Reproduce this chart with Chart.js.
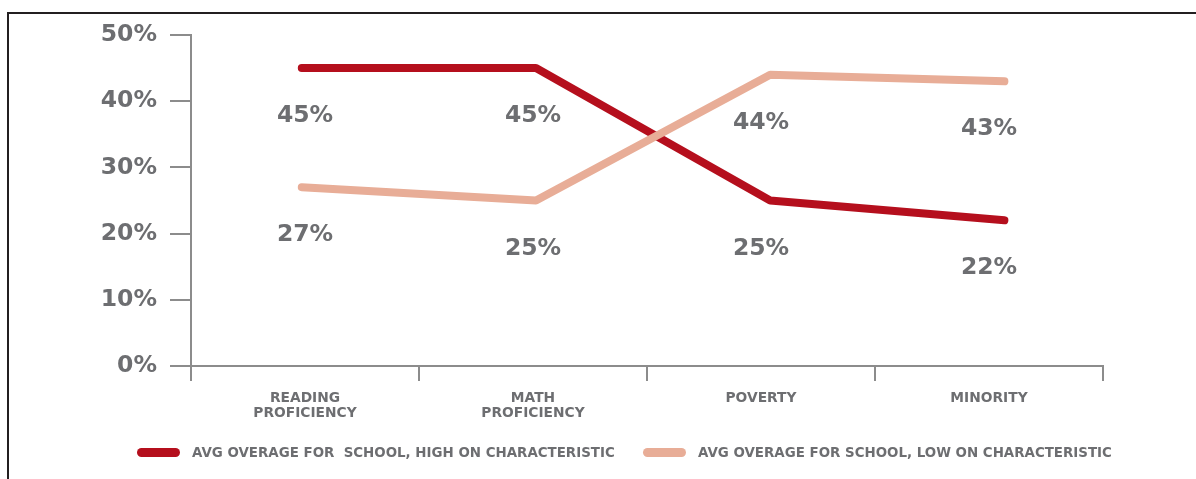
<!DOCTYPE html>
<html>
<head>
    <meta charset="UTF-8">
    <title>Avg overage by school characteristic</title>
    <script src="https://cdn.jsdelivr.net/npm/chart.js"></script>
    <style>
        html, body { margin: 0; padding: 0; background: #fff; overflow: hidden; }
        #frame {
            position: absolute; left: 7px; top: 12px;
            width: 1300px; height: 600px;
            border: 2px solid #231f20;
        }
        #chart { position: absolute; left: 0; top: 0; }
        .legend-item {
            position: absolute; top: 444px; height: 16px;
            display: flex; align-items: center;
            font: bold 13.4px "DejaVu Sans"; color: #6d6e71;
            white-space: pre;
        }
        .legend-swatch { width: 43px; height: 9px; border-radius: 5px; margin-right: 12px; }
    </style>
</head>
<body>
    <div id="frame"></div>
    <canvas id="chart" width="1196" height="479"></canvas>
    <div id="legend"></div>

    <script>
        // categories on the x axis (multi-line labels as arrays)
        var categories = [["READING", "PROFICIENCY"], ["MATH", "PROFICIENCY"], "POVERTY", "MINORITY"];

        // average overage, percent
        var highValues = [45, 45, 25, 22];
        var lowValues = [27, 25, 44, 43];

        var yTicks = [0, 10, 20, 30, 40, 50];

        var seriesNames = [
            "AVG OVERAGE FOR  SCHOOL, HIGH ON CHARACTERISTIC",
            "AVG OVERAGE FOR SCHOOL, LOW ON CHARACTERISTIC"
        ];
        var seriesColors = ["#b50f1d", "#e8ad97"];

        var textGray = '#6d6e71';
        var axisGray = '#8c8c8c';

        function toPoints(values) {
            return values.map(function(v, i) { return { x: i, y: v }; });
        }

        // percent labels under each point
        var valueLabels = {
            id: 'valueLabels',
            afterDatasetsDraw: function(chart) {
                var ctx = chart.ctx;
                var xs = chart.scales.x;
                var ys = chart.scales.y;
                ctx.save();
                ctx.font = 'bold 23.5px "DejaVu Sans"';
                ctx.fillStyle = textGray;
                ctx.textAlign = 'center';
                ctx.textBaseline = 'middle';
                chart.data.datasets.forEach(function(ds) {
                    ds.data.forEach(function(pt, i) {
                        ctx.fillText(pt.y + '%', xs.getPixelForValue(i), ys.getPixelForValue(pt.y) + 48);
                    });
                });
                ctx.restore();
            }
        };

        var ctx = document.getElementById('chart').getContext('2d');
        var chart = new Chart(ctx, {
            type: 'line',
            data: {
                labels: categories,
                datasets: [{
                    label: seriesNames[0],
                    data: toPoints(highValues),
                    borderColor: seriesColors[0],
                    backgroundColor: seriesColors[0],
                    xAxisID: 'xPoints',
                    order: 1
                }, {
                    label: seriesNames[1],
                    data: toPoints(lowValues),
                    borderColor: seriesColors[1],
                    backgroundColor: seriesColors[1],
                    xAxisID: 'xPoints',
                    order: 0
                }]
            },
            options: {
                responsive: false,
                animation: false,
                devicePixelRatio: 1,
                layout: { padding: { left: 0, right: 93, top: 35, bottom: 0 } },
                elements: {
                    line: { borderWidth: 8, tension: 0, borderCapStyle: 'round', borderJoinStyle: 'round', fill: false },
                    point: { radius: 0, hoverRadius: 0 }
                },
                plugins: {
                    legend: { display: false },
                    tooltip: { enabled: false }
                },
                scales: {
                    x: {
                        type: 'category',
                        offset: true,
                        grid: { offset: true, drawOnChartArea: false, tickLength: 15, color: axisGray, lineWidth: 2 },
                        border: { color: axisGray, width: 2 },
                        ticks: {
                            color: textGray,
                            font: { family: 'DejaVu Sans', weight: 'bold', size: 13.8, lineHeight: 1.1 },
                            padding: 10,
                            maxRotation: 0,
                            autoSkip: false
                        },
                        afterFit: function(scale) { scale.height = 113; }
                    },
                    // point positions along the axis
                    xPoints: {
                        type: 'linear',
                        display: false,
                        min: -0.473,
                        max: 3.421
                    },
                    y: {
                        min: 0,
                        max: 50,
                        grid: { drawOnChartArea: false, tickLength: 21, color: axisGray, lineWidth: 2 },
                        border: { color: axisGray, width: 2 },
                        afterBuildTicks: function(scale) {
                            scale.ticks = yTicks.map(function(v) { return { value: v }; });
                        },
                        ticks: {
                            color: textGray,
                            font: { family: 'DejaVu Sans', weight: 'bold', size: 23.5 },
                            padding: 13,
                            callback: function(v) { return v + '%'; }
                        },
                        afterFit: function(scale) { scale.width = 191; }
                    }
                }
            },
            plugins: [valueLabels]
        });

        // legend below the chart
        var legendLeft = [137, 643];
        var legend = document.getElementById('legend');
        seriesNames.forEach(function(name, i) {
            var item = document.createElement('div');
            item.className = 'legend-item';
            item.style.left = legendLeft[i] + 'px';
            var sw = document.createElement('span');
            sw.className = 'legend-swatch';
            sw.style.background = seriesColors[i];
            var txt = document.createElement('span');
            txt.textContent = name;
            item.appendChild(sw);
            item.appendChild(txt);
            legend.appendChild(item);
        });
    </script>
</body>
</html>
